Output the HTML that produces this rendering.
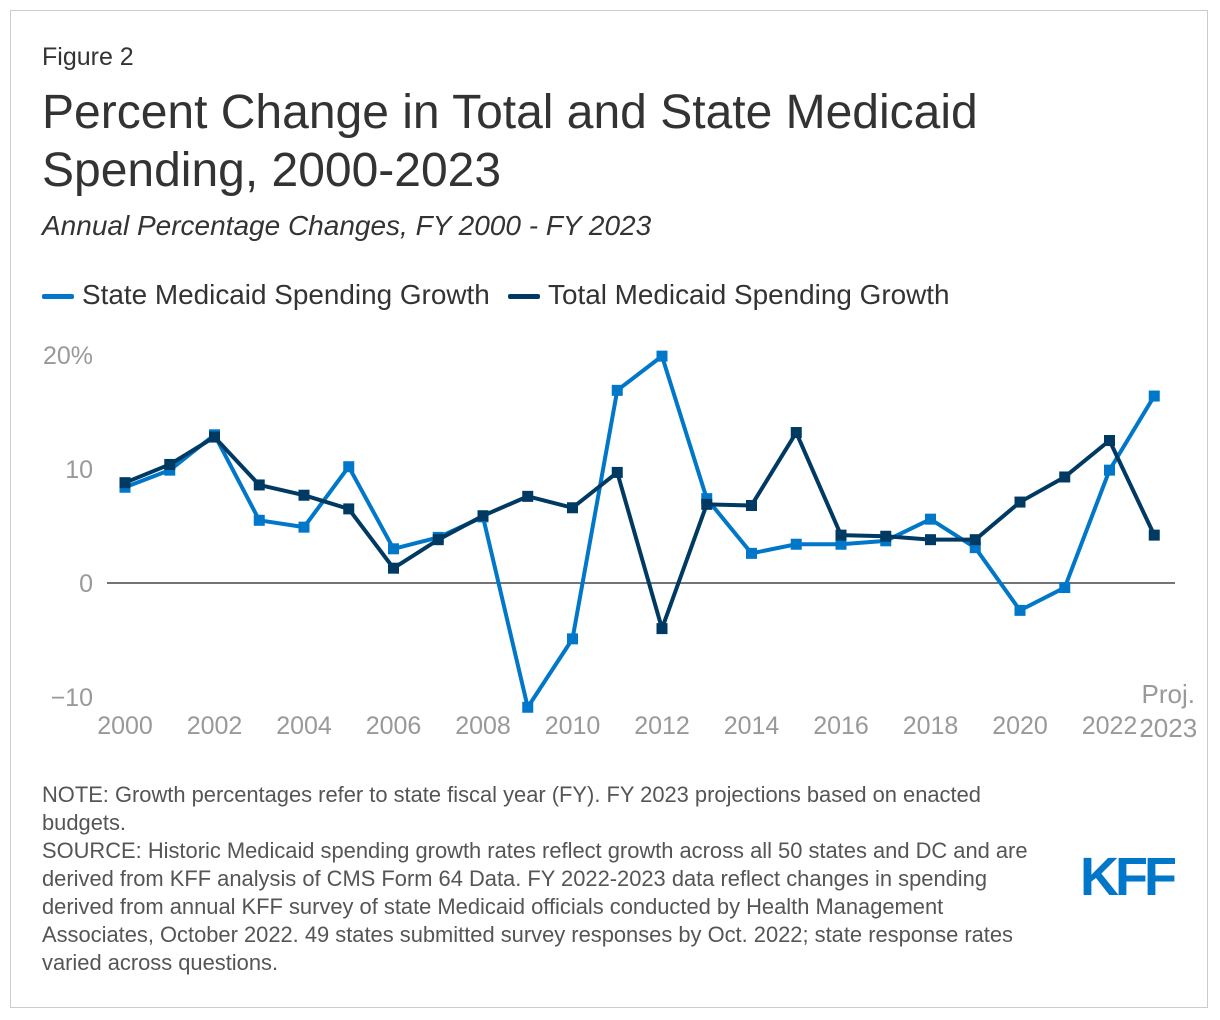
<!DOCTYPE html>
<html><head><meta charset="utf-8"><style>
body{margin:0;width:1220px;height:1020px;background:#fff;font-family:"Liberation Sans",Arial,sans-serif;position:relative;overflow:hidden}
.frame{position:absolute;left:10px;top:10px;width:1198px;height:998px;border:1px solid #ccc;box-sizing:border-box}
.t{position:absolute;color:#333;white-space:nowrap}
</style></head><body>
<div class="frame"></div>
<div class="t" style="left:42px;top:43px;font-size:25px">Figure 2</div>
<div class="t" style="left:42px;top:84px;font-size:48px;line-height:58px">Percent Change in Total and State Medicaid<br>Spending, 2000-2023</div>
<div class="t" style="left:42px;top:210px;font-size:28px;font-style:italic">Annual Percentage Changes, FY 2000 - FY 2023</div>
<div class="t" style="left:42px;top:279px;font-size:27.9px"><span style="display:inline-block;width:32px;height:5px;background:#0077c8;vertical-align:middle;margin-right:8px;border-radius:2px"></span>State Medicaid Spending Growth</div>
<div class="t" style="left:508px;top:279px;font-size:27.9px"><span style="display:inline-block;width:32px;height:5px;background:#003a63;vertical-align:middle;margin-right:8px;border-radius:2px"></span>Total Medicaid Spending Growth</div>
<svg id="chart" width="1220" height="1020" style="position:absolute;left:0;top:0"></svg>
<div class="t" style="left:42px;top:781px;font-size:21.9px;line-height:28px;color:#555">NOTE: Growth percentages refer to state fiscal year (FY). FY 2023 projections based on enacted<br>budgets.<br>SOURCE: Historic Medicaid spending growth rates reflect growth across all 50 states and DC and are<br>derived from KFF analysis of CMS Form 64 Data. FY 2022-2023 data reflect changes in spending<br>derived from annual KFF survey of state Medicaid officials conducted by Health Management<br>Associates, October 2022. 49 states submitted survey responses by Oct. 2022; state response rates<br>varied across questions.</div>
<div style="position:absolute;left:1080px;top:846px;font-size:54px;font-weight:bold;color:#0077c8;letter-spacing:-4px;font-family:'Liberation Sans',sans-serif">KFF</div>
<script>
const years=[2000,2001,2002,2003,2004,2005,2006,2007,2008,2009,2010,2011,2012,2013,2014,2015,2016,2017,2018,2019,2020,2021,2022,2023];
const stateGrowth=[8.4,9.9,13.0,5.5,4.9,10.2,3.0,4.0,5.8,-10.9,-4.9,16.9,19.9,7.4,2.6,3.4,3.4,3.7,5.6,3.1,-2.4,-0.4,9.9,16.4];
const totalGrowth=[8.8,10.4,12.8,8.6,7.7,6.5,1.3,3.8,5.9,7.6,6.6,9.7,-4.0,6.9,6.8,13.2,4.2,4.1,3.8,3.8,7.1,9.3,12.5,4.2];
const yTicks=[20,10,0,-10];
const yTickLabels=["20%","10","0","\u221210"];
const xTicks=[2000,2002,2004,2006,2008,2010,2012,2014,2016,2018,2020,2022];
const svg=document.getElementById('chart');
const NS='http://www.w3.org/2000/svg';
const x=v=>125+(v-2000)*44.75;
const y=v=>583-v*11.4;
function mk(tag,attrs){const e=document.createElementNS(NS,tag);for(const k in attrs)e.setAttribute(k,attrs[k]);svg.appendChild(e);return e;}
const zl=mk('line',{x1:107,x2:1175,y1:y(0),y2:y(0),stroke:'#222','stroke-width':1.2});


yTicks.forEach((t,i)=>{const e=mk('text',{x:93,y:y(t)+9,'text-anchor':'end','font-size':25,fill:'#999'});e.textContent=yTickLabels[i];

});
xTicks.forEach(t=>{const e=mk('text',{x:x(t),y:734,'text-anchor':'middle','font-size':25,fill:'#999'});e.textContent=t;

});
[['Proj.',703],['2023',737]].forEach(([s,yy])=>{const e=mk('text',{x:x(2023)+14,y:yy,'text-anchor':'middle','font-size':26,fill:'#999'});e.textContent=s;

});
function series(vals,color,name){
const p=mk('polyline',{points:vals.map((v,i)=>x(years[i])+','+y(v)).join(' '),fill:'none',stroke:color,'stroke-width':4,'stroke-linejoin':'round'});


vals.forEach((v,i)=>{const r=mk('rect',{x:x(years[i])-5.5,y:y(v)-5.5,width:11,height:11,fill:color});

});}
series(stateGrowth,'#0077c8','state-growth');
series(totalGrowth,'#003a63','total-growth');
</script>
</body></html>
